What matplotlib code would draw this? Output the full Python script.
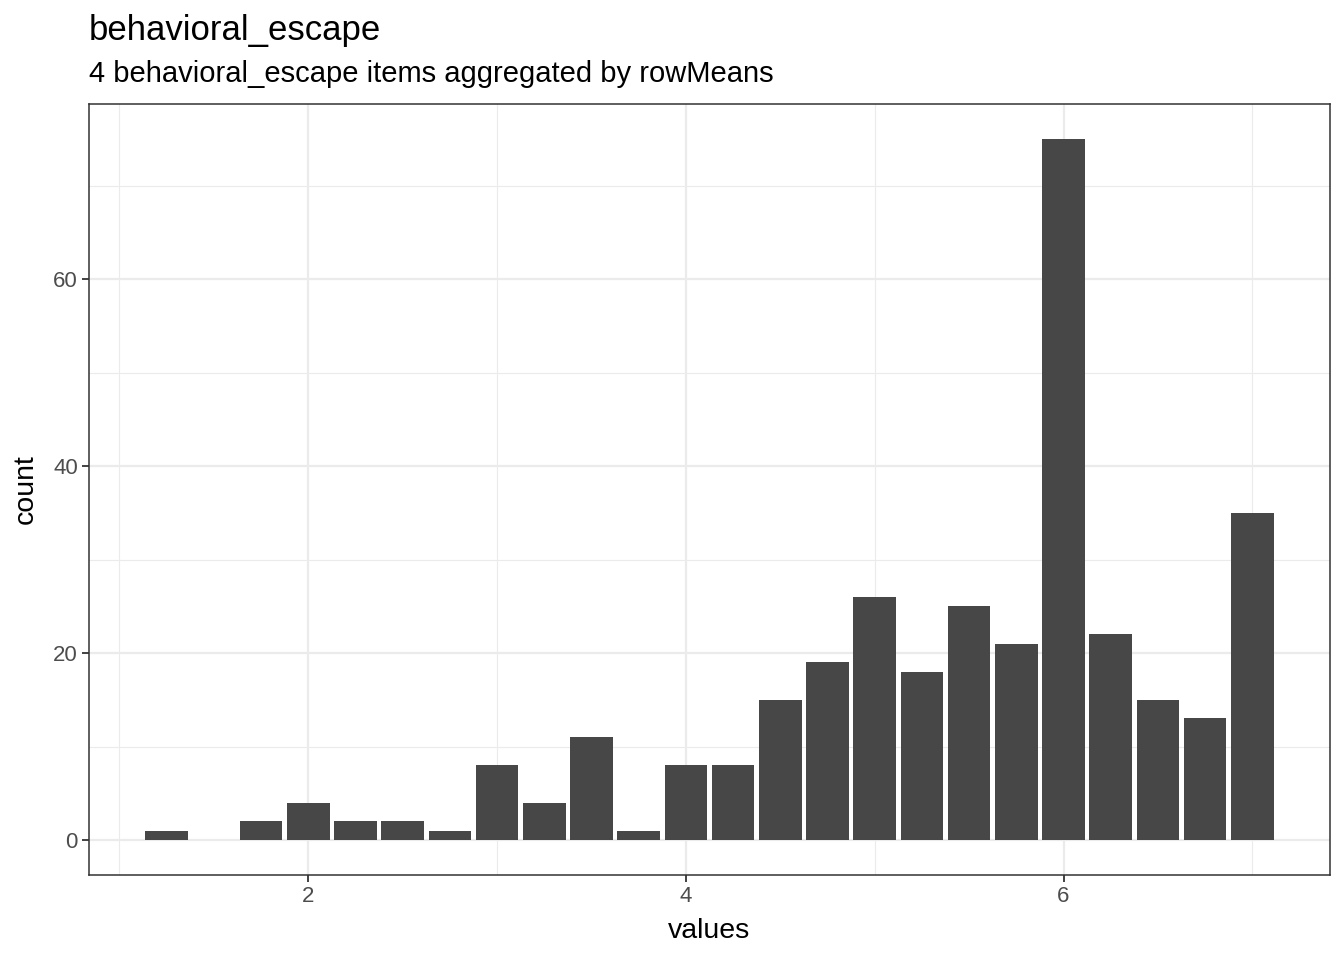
import matplotlib
matplotlib.use('Agg')
import matplotlib.pyplot as plt
import numpy as np

plt.rcParams['font.family'] = ['Liberation Sans', 'DejaVu Sans']

# Data
values = [1.25, 1.75, 2.0, 2.25, 2.5, 2.75, 3.0, 3.25, 3.5, 3.75, 4.0, 4.25,
          4.5, 4.75, 5.0, 5.25, 5.5, 5.75, 6.0, 6.25, 6.5, 6.75, 7.0]
counts = [1, 2, 4, 2, 2, 1, 8, 4, 11, 1, 8, 8,
          15, 19, 26, 18, 25, 21, 75, 22, 15, 13, 35]
x_major = [2, 4, 6]
x_minor = [1, 3, 5, 7]
y_major = [0, 20, 40, 60]
y_minor = [10, 30, 50, 70]

title = 'behavioral_escape'
subtitle = '4 behavioral_escape items aggregated by rowMeans'

W, H = 1344, 960
fig = plt.figure(figsize=(W / 100, H / 100), dpi=100)
left, right, top, bottom = 89, 1330, 104, 875
ax = fig.add_axes([left / W, 1 - bottom / H, (right - left) / W, (bottom - top) / H])

bar_w = 0.225
ax.bar(values, counts, width=bar_w, color='#474747', edgecolor='none', zorder=3)

x_lo = min(values) - bar_w / 2
x_hi = max(values) + bar_w / 2
pad = (x_hi - x_lo) * 0.05
ax.set_xlim(x_lo - pad, x_hi + pad)
ymax = max(counts)
ax.set_ylim(-ymax * 0.05, ymax * 1.05)

for v in x_minor:
    ax.axvline(v, color='#EBEBEB', linewidth=0.8, zorder=1)
for v in y_minor:
    ax.axhline(v, color='#EBEBEB', linewidth=0.8, zorder=1)
for v in x_major:
    ax.axvline(v, color='#EBEBEB', linewidth=1.6, zorder=1)
for v in y_major:
    ax.axhline(v, color='#EBEBEB', linewidth=1.6, zorder=1)

ax.set_xticks(x_major)
ax.set_yticks(y_major)
ax.tick_params(axis='both', length=5, width=1.3, color='#333333',
               labelcolor='#4D4D4D', labelsize=16, pad=3)

for s in ax.spines.values():
    s.set_color('#333333')
    s.set_linewidth(1.1)

ax.set_xlabel('values', fontsize=20.5, labelpad=8)
ax.set_ylabel('count', fontsize=20.5, labelpad=10)

fig.text(left / W, 1 - 40 / H, title, fontsize=25, ha='left', va='baseline')
fig.text(left / W, 1 - 82 / H, subtitle, fontsize=21, ha='left', va='baseline')

fig.savefig('out.png', dpi=100, facecolor='white')
